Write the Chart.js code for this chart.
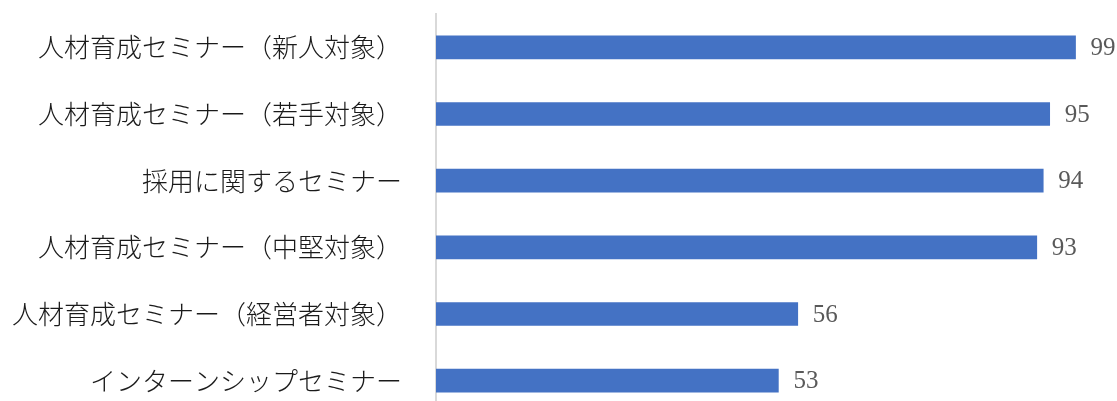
<!DOCTYPE html>
<html lang="ja">
<head>
<meta charset="utf-8">
<script src="https://cdn.jsdelivr.net/npm/chart.js@4"></script>
<style>
  html, body { margin:0; padding:0; background:#fff; overflow:hidden; }
  #wrap { width:1117px; height:414px; position:relative; }
</style>
</head>
<body>
<div id="wrap"><canvas id="chart"></canvas></div>
<script>
// ===== Data =====
const categories = [
  "人材育成セミナー（新人対象）",
  "人材育成セミナー（若手対象）",
  "採用に関するセミナー",
  "人材育成セミナー（中堅対象）",
  "人材育成セミナー（経営者対象）",
  "インターンシップセミナー"
];
const values = [99, 95, 94, 93, 56, 53];
const xMin = 0;
const xMax = 100;

// ===== Value labels at bar ends =====
const valueLabels = {
  id: "valueLabels",
  afterDatasetsDraw(chart) {
    const { ctx } = chart;
    const meta = chart.getDatasetMeta(0);
    ctx.save();
    ctx.font = "25px 'Liberation Serif', serif";
    ctx.fillStyle = "#595959";
    ctx.textAlign = "left";
    ctx.textBaseline = "middle";
    meta.data.forEach((bar, i) => {
      ctx.fillText(String(values[i]), bar.x + 15, bar.y + 1);
    });
    ctx.restore();
  }
};

new Chart(document.getElementById("chart"), {
  type: "bar",
  data: {
    labels: categories,
    datasets: [{
      data: values,
      backgroundColor: "#4472C4",
      borderWidth: 0,
      barThickness: 23
    }]
  },
  options: {
    indexAxis: "y",
    responsive: true,
    maintainAspectRatio: false,
    animation: false,
    layout: { padding: { top: 14, bottom: 0, left: 0, right: 35 } },
    plugins: { legend: { display: false }, tooltip: { enabled: false } },
    scales: {
      x: { display: false, min: xMin, max: xMax },
      y: {
        grid: { display: false },
        border: { display: true, color: "#d9d9d9", width: 2 },
        ticks: {
          color: "#1a1a1a",
          padding: 26,
          font: { family: "'Noto Sans CJK JP', sans-serif", size: 26, weight: 300 }
        },
        afterFit(scale) {
          // fixed axis width, no extra label padding above/below the bars
          scale.width = 436;
          scale.paddingTop = 0;
          scale.paddingBottom = 0;
        }
      }
    }
  },
  plugins: [valueLabels]
});
</script>
</body>
</html>
